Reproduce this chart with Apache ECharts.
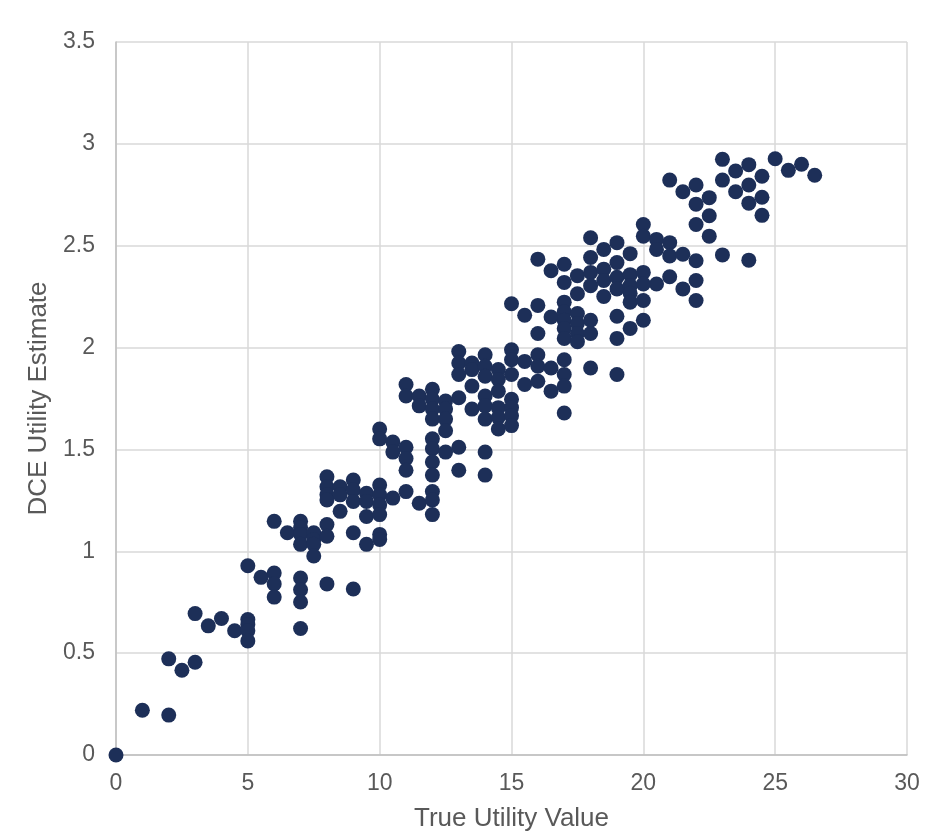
<!DOCTYPE html>
<html>
<head>
<meta charset="utf-8">
<script src="https://cdn.jsdelivr.net/npm/echarts@6/dist/echarts.min.js"></script>
<style>
html,body{margin:0;padding:0;background:#fff;overflow:hidden;}
#chart{width:926px;height:837px;}
</style>
</head>
<body>
<div id="chart"></div>
<script>
// True utility values (x) at which observations occur
const trueUtilityLevels = [0, 1, 2, 2.5, 3, 3.5, 4, 4.5, 5, 5.5, 6, 6.5, 7, 7.5, 8, 8.5, 9, 9.5, 10, 10.5, 11, 11.5, 12, 12.5, 13, 13.5, 14, 14.5, 15, 15.5, 16, 16.5, 17, 17.5, 18, 18.5, 19, 19.5, 20, 20.5, 21, 21.5, 22, 22.5, 23, 23.5, 24, 24.5, 25, 25.5, 26, 26.5];

// DCE utility estimates observed at each true utility level (same order)
const dceEstimates = [
  [0],
  [0.22],
  [0.196, 0.472],
  [0.416],
  [0.455, 0.694],
  [0.634],
  [0.670],
  [0.61],
  [0.929, 0.665, 0.64, 0.61, 0.56],
  [0.872],
  [1.147, 0.893, 0.840, 0.775],
  [1.091],
  [1.147, 1.115, 1.083, 1.034, 0.869, 0.811, 0.751, 0.621],
  [1.091, 1.058, 1.034, 0.977],
  [1.366, 1.317, 1.277, 1.252, 1.131, 1.074, 0.840],
  [1.317, 1.277, 1.196],
  [1.350, 1.301, 1.245, 1.091, 0.815],
  [1.285, 1.245, 1.171, 1.034],
  [1.600, 1.552, 1.325, 1.277, 1.228, 1.180, 1.083, 1.058],
  [1.536, 1.487, 1.261],
  [1.819, 1.762, 1.511, 1.455, 1.398, 1.293],
  [1.762, 1.714, 1.236],
  [1.795, 1.746, 1.698, 1.649, 1.552, 1.503, 1.438, 1.374, 1.293, 1.252, 1.180],
  [1.738, 1.698, 1.649, 1.592, 1.487],
  [1.981, 1.924, 1.868, 1.754, 1.511, 1.398],
  [1.924, 1.892, 1.811, 1.698],
  [1.965, 1.908, 1.859, 1.762, 1.714, 1.649, 1.487, 1.374],
  [1.892, 1.843, 1.786, 1.705, 1.657, 1.600],
  [2.215, 1.989, 1.940, 1.868, 1.746, 1.705, 1.665, 1.617],
  [2.159, 1.932, 1.819],
  [2.434, 2.207, 2.069, 1.965, 1.908, 1.835],
  [2.377, 2.150, 1.900, 1.786],
  [2.409, 2.320, 2.223, 2.175, 2.134, 2.094, 2.045, 1.940, 1.868, 1.811, 1.679],
  [2.353, 2.264, 2.167, 2.118, 2.069, 2.029],
  [2.539, 2.442, 2.369, 2.304, 2.134, 2.069, 1.900],
  [2.482, 2.385, 2.329, 2.251],
  [2.515, 2.417, 2.345, 2.288, 2.154, 2.045, 1.868],
  [2.461, 2.358, 2.304, 2.267, 2.223, 2.094],
  [2.604, 2.547, 2.369, 2.312, 2.231, 2.134],
  [2.531, 2.482, 2.312],
  [2.822, 2.515, 2.450, 2.348],
  [2.765, 2.458, 2.288],
  [2.798, 2.704, 2.604, 2.426, 2.329, 2.231],
  [2.736, 2.647, 2.547],
  [2.924, 2.822, 2.455],
  [2.867, 2.765],
  [2.898, 2.798, 2.709, 2.429],
  [2.841, 2.738, 2.649],
  [2.927],
  [2.870],
  [2.900],
  [2.846]
];

const xTickLabels = ['0', '5', '10', '15', '20', '25', '30'];
const yTickLabels = ['0', '0.5', '1', '1.5', '2', '2.5', '3', '3.5'];

const points = [];
trueUtilityLevels.forEach((x, i) => {
  dceEstimates[i].forEach(y => points.push([x, y]));
});

const FONT = '"Liberation Sans", Arial, sans-serif';
const labelColor = '#595959';

const chart = echarts.init(document.getElementById('chart'), null, {renderer: 'canvas', width: 926, height: 837});
chart.setOption({
  animation: false,
  backgroundColor: '#ffffff',
  grid: {left: 116, right: 19, top: 42, bottom: 74, containLabel: false},
  xAxis: {
    type: 'value',
    min: 0, max: 30, interval: 5,
    name: 'True Utility Value',
    nameLocation: 'middle',
    nameGap: 51,
    nameTextStyle: {fontFamily: FONT, fontSize: 26, color: labelColor},
    axisLine: {show: true, lineStyle: {color: '#bfbfbf', width: 1.5}},
    axisTick: {show: false},
    axisLabel: {fontFamily: FONT, fontSize: 23, color: labelColor, margin: 17,
      formatter: v => xTickLabels[Math.round(v / 5)]},
    splitLine: {show: true, lineStyle: {color: '#d9d9d9', width: 1.5}}
  },
  yAxis: {
    type: 'value',
    min: 0, max: 3.5, interval: 0.5,
    name: 'DCE Utility Estimate',
    nameLocation: 'middle',
    nameGap: 62,
    nameRotate: 90,
    nameTextStyle: {fontFamily: FONT, fontSize: 26, color: labelColor},
    axisLine: {show: true, lineStyle: {color: '#bfbfbf', width: 1.5}},
    axisTick: {show: false},
    axisLabel: {fontFamily: FONT, fontSize: 23, color: labelColor, margin: 21,
      formatter: v => yTickLabels[Math.round(v / 0.5)]},
    splitLine: {show: true, lineStyle: {color: '#d9d9d9', width: 1.5}}
  },
  series: [{
    type: 'scatter',
    data: points,
    symbol: 'circle',
    symbolSize: 15,
    itemStyle: {color: '#1d2f58', opacity: 1},
    clip: false
  }]
});
</script>
</body>
</html>
